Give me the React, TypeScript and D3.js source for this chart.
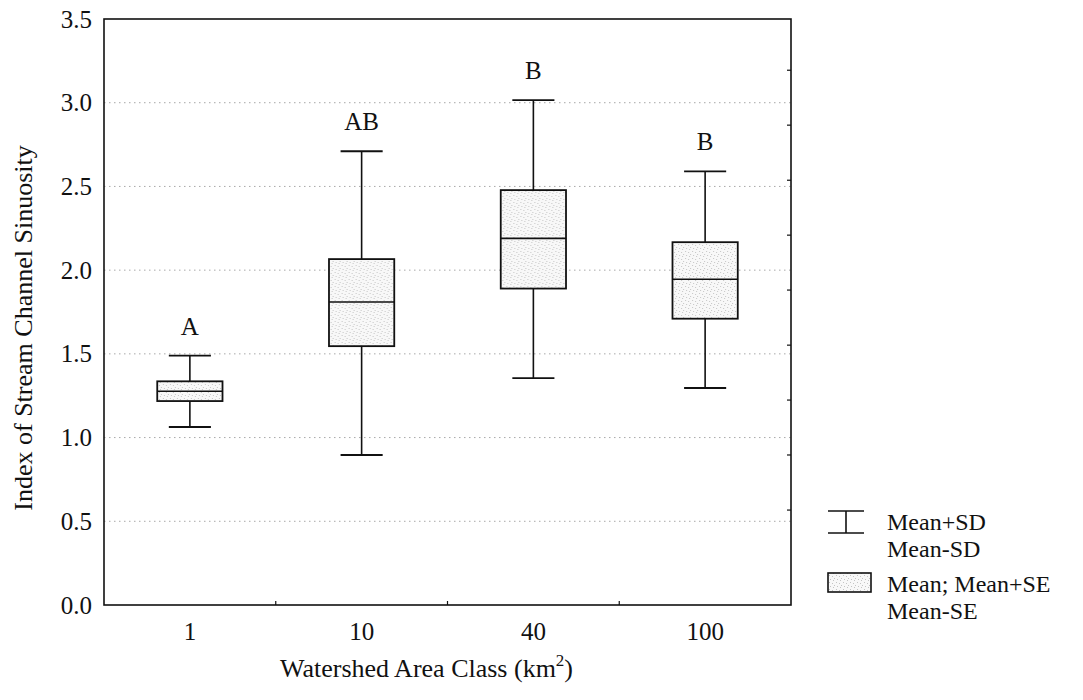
import React, { useEffect, useRef } from "react";
import * as d3 from "d3";

const categories = ["1", "10", "40", "100"];
const means = [1.277, 1.81, 2.19, 1.946];
const seUpper = [1.336, 2.066, 2.478, 2.167];
const seLower = [1.218, 1.546, 1.89, 1.71];
const sdUpper = [1.49, 2.71, 3.015, 2.59];
const sdLower = [1.063, 0.896, 1.355, 1.296];
const groupLetters = ["A", "AB", "B", "B"];
const yTicks = [0, 0.5, 1, 1.5, 2, 2.5, 3, 3.5];
const gridValues = [0.5, 1, 1.5, 2, 2.5, 3];
const rightTicks = [0.567, 0.896, 1.224, 1.552, 1.881, 2.209, 2.537, 2.866, 3.194];
const legendItems = [
  ["Mean+SD", "Mean-SD"],
  ["Mean; Mean+SE", "Mean-SE"],
];

const FONT = "'Liberation Serif', 'Times New Roman', serif";

const App = () => {
  const svgRef = useRef<SVGSVGElement>(null);

  useEffect(() => {
    const margin = { top: 19, right: 292, bottom: 95, left: 104 };
    const W = 1083;
    const H = 700;
    const width = W - margin.left - margin.right;
    const height = H - margin.top - margin.bottom;

    const svg = d3.select(svgRef.current);
    svg.selectAll("*").remove();

    const defs = svg.append("defs");
    const pat = defs
      .append("pattern")
      .attr("id", "stipple")
      .attr("patternUnits", "userSpaceOnUse")
      .attr("width", 7)
      .attr("height", 7);
    pat.append("rect").attr("width", 7).attr("height", 7).attr("fill", "#f8f8f8");
    [
      [1, 1],
      [4, 2],
      [2, 5],
      [6, 4],
      [5, 6],
    ].forEach(([cx, cy]) =>
      pat
        .append("rect")
        .attr("x", cx)
        .attr("y", cy)
        .attr("width", 1)
        .attr("height", 1)
        .attr("fill", "#c4c4c4")
    );

    const g = svg
      .append("g")
      .attr("transform", `translate(${margin.left},${margin.top})`);

    const x = d3.scaleBand().domain(categories).range([0, width]);
    const y = d3.scaleLinear().domain([0, 3.5]).range([height, 0]);
    const bw = x.bandwidth();
    const boxW = bw * 0.38;
    const capW = bw * 0.245;

    // dotted grid
    g.selectAll(".grid")
      .data(gridValues)
      .enter()
      .append("line")
      .attr("class", "grid")
      .attr("x1", 0)
      .attr("x2", width)
      .attr("y1", (d) => y(d))
      .attr("y2", (d) => y(d))
      .attr("stroke", "#a8a8a8")
      .attr("stroke-width", 1)
      .attr("stroke-dasharray", "1.5,3.5");

    // axes
    const yAxis = d3
      .axisLeft(y)
      .tickValues(yTicks)
      .tickFormat(d3.format(".1f"))
      .tickSize(0)
      .tickPadding(12);
    const ya = g.append("g").call(yAxis);
    ya.select(".domain").remove();
    ya.selectAll("text")
      .style("font-family", FONT)
      .style("font-size", "25px")
      .style("fill", "#111");

    const xAxis = d3.axisBottom(x).tickSize(0).tickPadding(17);
    const xa = g.append("g").attr("transform", `translate(0,${height})`).call(xAxis);
    xa.select(".domain").remove();
    xa.selectAll("text")
      .style("font-family", FONT)
      .style("font-size", "25px")
      .style("fill", "#111");

    // inward ticks at category boundaries
    g.selectAll(".btick")
      .data(categories.slice(1))
      .enter()
      .append("line")
      .attr("x1", (d) => x(d)!)
      .attr("x2", (d) => x(d)!)
      .attr("y1", height)
      .attr("y2", height - 4)
      .attr("stroke", "#111")
      .attr("stroke-width", 1.2);

    g.selectAll(".rtick")
      .data(rightTicks)
      .enter()
      .append("line")
      .attr("x1", width)
      .attr("x2", width - 4)
      .attr("y1", (d) => y(d))
      .attr("y2", (d) => y(d))
      .attr("stroke", "#111")
      .attr("stroke-width", 1.2);

    // frame
    g.append("rect")
      .attr("width", width)
      .attr("height", height)
      .attr("fill", "none")
      .attr("stroke", "#111")
      .attr("stroke-width", 1.6);

    // whiskers + boxes
    const groups = g
      .selectAll(".grp")
      .data(categories)
      .enter()
      .append("g")
      .attr("transform", (d) => `translate(${x(d)! + bw / 2},0)`);

    groups
      .append("line")
      .attr("x1", 0)
      .attr("x2", 0)
      .attr("y1", (d, i) => y(sdUpper[i]))
      .attr("y2", (d, i) => y(sdLower[i]))
      .attr("stroke", "#111")
      .attr("stroke-width", 1.6);

    [sdUpper, sdLower].forEach((arr) =>
      groups
        .append("line")
        .attr("x1", -capW / 2)
        .attr("x2", capW / 2)
        .attr("y1", (d, i) => y(arr[i]))
        .attr("y2", (d, i) => y(arr[i]))
        .attr("stroke", "#111")
        .attr("stroke-width", 1.8)
    );

    groups
      .append("rect")
      .attr("x", -boxW / 2)
      .attr("width", boxW)
      .attr("y", (d, i) => y(seUpper[i]))
      .attr("height", (d, i) => y(seLower[i]) - y(seUpper[i]))
      .attr("fill", "url(#stipple)")
      .attr("stroke", "#111")
      .attr("stroke-width", 1.8);

    groups
      .append("line")
      .attr("x1", -boxW / 2)
      .attr("x2", boxW / 2)
      .attr("y1", (d, i) => y(means[i]))
      .attr("y2", (d, i) => y(means[i]))
      .attr("stroke", "#111")
      .attr("stroke-width", 1.6);

    groups
      .append("text")
      .attr("y", (d, i) => y(sdUpper[i]) - 21)
      .attr("text-anchor", "middle")
      .style("font-family", FONT)
      .style("font-size", "25px")
      .style("fill", "#111")
      .text((d, i) => groupLetters[i]);

    // axis titles
    const xt = svg
      .append("text")
      .attr("x", margin.left + width / 2 - 21)
      .attr("y", 677)
      .attr("text-anchor", "middle")
      .style("font-family", FONT)
      .style("font-size", "26px")
      .style("fill", "#111");
    xt.append("tspan").text("Watershed Area Class (km");
    xt.append("tspan").attr("dy", -11).style("font-size", "17px").text("2");
    xt.append("tspan").attr("dy", 11).text(")");

    svg
      .append("text")
      .attr("transform", `translate(32,328) rotate(-90)`)
      .attr("text-anchor", "middle")
      .style("font-family", FONT)
      .style("font-size", "26px")
      .style("fill", "#111")
      .text("Index of Stream Channel Sinuosity");

    // legend
    const lg = svg.append("g").attr("transform", "translate(828,0)");
    lg.append("line").attr("x1", 0).attr("x2", 36).attr("y1", 511).attr("y2", 511)
      .attr("stroke", "#111").attr("stroke-width", 1.6);
    lg.append("line").attr("x1", 18).attr("x2", 18).attr("y1", 511).attr("y2", 533)
      .attr("stroke", "#111").attr("stroke-width", 1.6);
    lg.append("line").attr("x1", 0).attr("x2", 36).attr("y1", 533).attr("y2", 533)
      .attr("stroke", "#111").attr("stroke-width", 1.6);
    lg.append("rect").attr("x", 0).attr("y", 573).attr("width", 43).attr("height", 19)
      .attr("fill", "url(#stipple)").attr("stroke", "#111").attr("stroke-width", 1.6);

    const legendY = [[530, 557], [592, 619]];
    legendItems.forEach((lines, k) =>
      lines.forEach((t, j) =>
        lg
          .append("text")
          .attr("x", 59)
          .attr("y", legendY[k][j])
          .style("font-family", FONT)
          .style("font-size", "24px")
          .style("fill", "#111")
          .text(t)
      )
    );
  }, []);

  return (
    <div style={{ position: "absolute", left: 0, top: 0 }}>
      <svg ref={svgRef} width={1083} height={700} style={{ display: "block", background: "#fff" }} />
    </div>
  );
};

export default App;
